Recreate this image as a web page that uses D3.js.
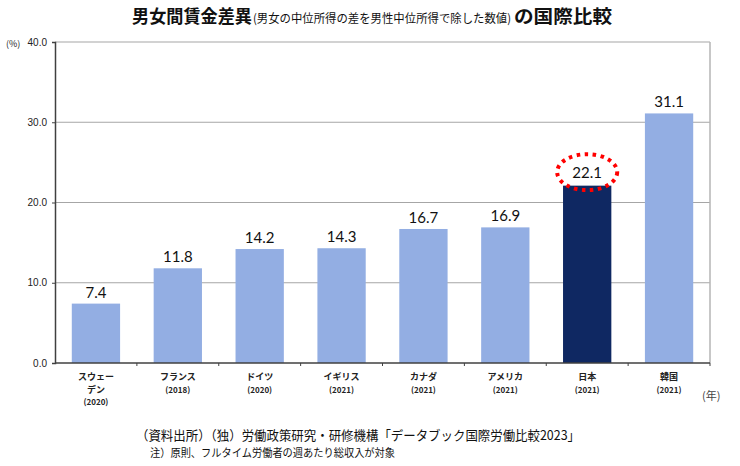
<!DOCTYPE html>
<html><head><meta charset="utf-8">
<script src="https://cdn.jsdelivr.net/npm/d3@7"></script>
<style>body{margin:0;background:#fff}svg{display:block}</style>
</head><body>
<script>
const categories = ["スウェーデン", "フランス", "ドイツ", "イギリス", "カナダ", "アメリカ", "日本", "韓国"];
const categoryLines = [["スウェー","デン","(2020)"],["フランス","(2018)"],["ドイツ","(2020)"],["イギリス","(2021)"],["カナダ","(2021)"],["アメリカ","(2021)"],["日本","(2021)"],["韓国","(2021)"]];
const values = [7.4, 11.8, 14.2, 14.3, 16.7, 16.9, 22.1, 31.1];
const yTicks = [0, 10, 20, 30, 40];
const highlight = "日本";

const W = 740, H = 466;
const svg = d3.select("body").append("svg").attr("width", W).attr("height", H);
const L = 55, R = 710, T = 42, B = 363;
const x = d3.scaleBand().domain(categories).range([L, R]).paddingInner(0.41).paddingOuter(0.205);
const y = d3.scaleLinear().domain([0, 40]).range([B, T]);
const jp = "'Noto Sans CJK JP', sans-serif";

// gridlines
svg.append("g").selectAll("line").data(yTicks.filter(d => d > 0)).join("line")
  .attr("x1", L).attr("x2", R).attr("y1", d => y(d)).attr("y2", d => y(d))
  .attr("stroke", "#a6a6a6").attr("stroke-width", 1.2);
// right border
svg.append("line").attr("x1", R).attr("x2", R).attr("y1", T).attr("y2", B).attr("stroke", "#b4b4b4").attr("stroke-width", 1.5);

// bars
svg.append("g").selectAll("rect").data(categories).join("rect")
  .attr("x", d => x(d)).attr("width", x.bandwidth())
  .attr("y", (d, i) => y(values[i])).attr("height", (d, i) => B - y(values[i]))
  .attr("fill", d => d === highlight ? "#0f2862" : "#93aee3");

// y axis
const yAxis = svg.append("g").attr("transform", `translate(${L},0)`)
  .call(d3.axisLeft(y).tickValues(yTicks).tickFormat(d3.format(".1f")).tickSize(3));
yAxis.select(".domain").attr("stroke", "#404040").attr("stroke-width", 1.5);
yAxis.selectAll(".tick line").attr("stroke", "#404040");
yAxis.selectAll(".tick text").attr("font-family", "Liberation Sans, Arial, sans-serif").attr("font-size", 10).attr("fill", "#222").attr("x", -8);

// x axis
svg.append("line").attr("x1", L).attr("x2", R).attr("y1", B).attr("y2", B).attr("stroke", "#404040").attr("stroke-width", 1.5);
const bounds = categories.map((d, i) => L + x.step() * (i + 1));
svg.append("g").selectAll("line").data(bounds).join("line")
  .attr("x1", d => d).attr("x2", d => d).attr("y1", B).attr("y2", B + 3).attr("stroke", "#404040");

// category labels
const cl = svg.append("g").attr("font-family", jp).attr("font-size", 9).attr("font-weight", "bold").attr("fill", "#222").attr("text-anchor", "middle");
categories.forEach((c, i) => {
  categoryLines[i].forEach((t, j) => {
    cl.append("text").attr("x", x(c) + x.bandwidth() / 2).attr("y", B + 17 + j * 12.5)
      .attr("font-size", t.startsWith("(") ? 8 : 9).text(t);
  });
});

// value labels
svg.append("g").selectAll("text").data(categories).join("text")
  .attr("x", d => x(d) + x.bandwidth() / 2)
  .attr("y", (d, i) => y(values[i]) - (d === highlight ? 8 : 6))
  .attr("text-anchor", "middle").attr("font-family", "Lato, 'Open Sans', sans-serif").attr("font-size", 15)
  .attr("fill", "#111").text((d, i) => d3.format(".1f")(values[i]));

// highlight ellipse
const hi = categories.indexOf(highlight);
svg.append("ellipse").attr("cx", x(highlight) + x.bandwidth() / 2).attr("cy", y(values[hi]) - 13.5)
  .attr("rx", 30).attr("ry", 18).attr("fill", "none").attr("stroke", "#ff0000")
  .attr("stroke-width", 4).attr("stroke-dasharray", "3.5 4.5");

// unit labels
svg.append("text").attr("x", 6).attr("y", 47).attr("font-family", jp).attr("font-size", 9).attr("fill", "#222").text("(%)");
svg.append("text").attr("x", 702).attr("y", 400).attr("font-family", jp).attr("font-size", 11).attr("fill", "#444").text("(年)");

// title
const title = svg.append("text").attr("y", 23).attr("font-family", jp).attr("fill", "#111");
title.append("tspan").attr("x", 132).attr("font-size", 18).attr("font-weight", "bold")
  .attr("textLength", 120).attr("lengthAdjust", "spacingAndGlyphs").text("男女間賃金差異");
title.append("tspan").attr("x", 253).attr("font-size", 12)
  .attr("textLength", 258).attr("lengthAdjust", "spacingAndGlyphs").text("(男女の中位所得の差を男性中位所得で除した数値)");
title.append("tspan").attr("x", 514).attr("font-size", 18).attr("font-weight", "bold")
  .attr("textLength", 98).attr("lengthAdjust", "spacingAndGlyphs").text("の国際比較");

// source and note
svg.append("text").attr("x", 136).attr("y", 440).attr("font-family", jp).attr("font-size", 13).attr("fill", "#111")
  .attr("textLength", 444).attr("lengthAdjust", "spacingAndGlyphs")
  .text("（資料出所）（独）労働政策研究・研修機構「データブック国際労働比較2023」");
svg.append("text").attr("x", 150).attr("y", 457).attr("font-family", jp).attr("font-size", 11).attr("fill", "#111")
  .attr("textLength", 245).attr("lengthAdjust", "spacingAndGlyphs")
  .text("注）原則、フルタイム労働者の週あたり総収入が対象");
</script>
</body></html>
